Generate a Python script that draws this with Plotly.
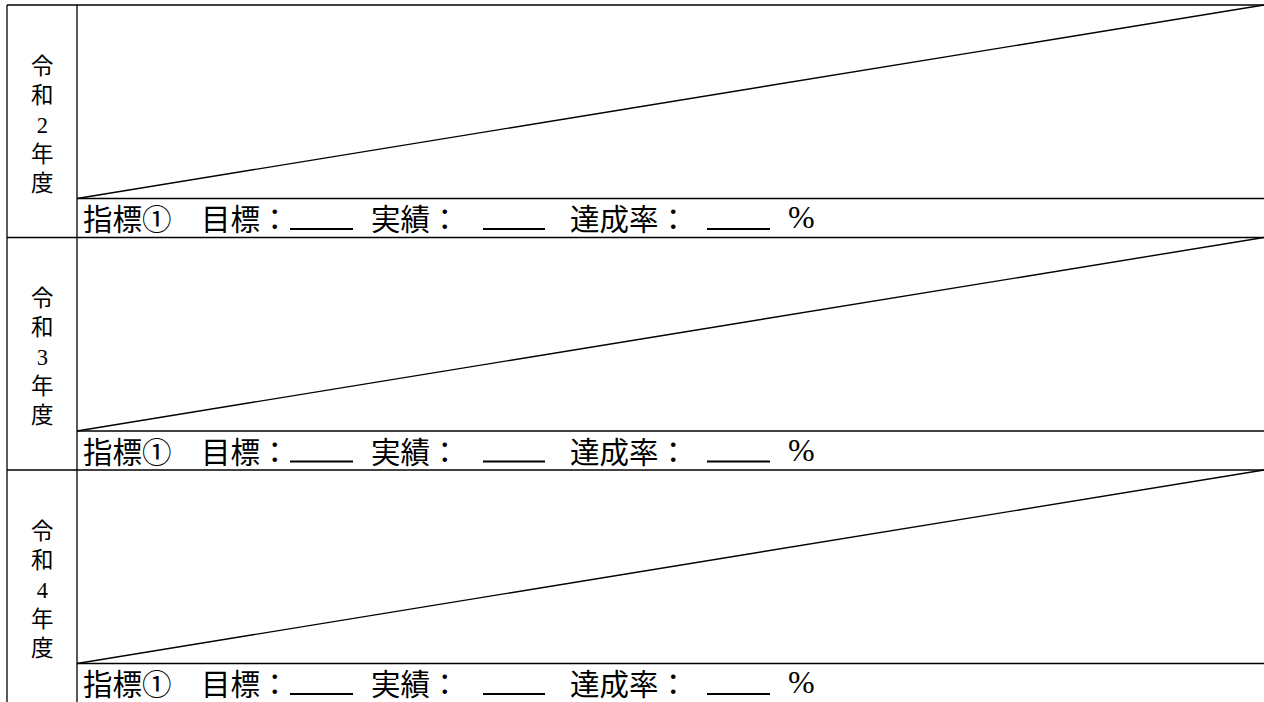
import plotly.graph_objects as go

# ---- content ----
years = ["令和2年度", "令和3年度", "令和4年度"]
indicator_label = "指標①　目標："
actual_label = "実績："
rate_label = "達成率："
percent_label = "%"

# ---- layout geometry (pixels) ----
W, H = 1264, 702
LEFT, DIV = 7, 77
TOP = 5
ROW_H = 232.5
BAND = 39            # height of the bottom text band in each row
LINE_W = 1.3
CJK = "Noto Sans CJK JP"
SERIF = "Liberation Serif"

fig = go.Figure()
shapes = []
annotations = []


def hline(x0, x1, y, w=LINE_W):
    shapes.append(dict(type="line", x0=x0, x1=x1, y0=y, y1=y,
                       line=dict(color="black", width=w)))


def vline(x, y0, y1, w=LINE_W):
    shapes.append(dict(type="line", x0=x, x1=x, y0=y0, y1=y1,
                       line=dict(color="black", width=w)))


vline(LEFT, TOP, H + 5)
vline(DIV, TOP, H + 5)

for i, year in enumerate(years):
    top = TOP + i * ROW_H
    band_top = top + ROW_H - BAND
    hline(LEFT, W + 5, top)
    hline(DIV, W + 5, band_top)
    # diagonal slash across the empty box
    shapes.append(dict(type="line", x0=DIV, y0=band_top, x1=W, y1=top,
                       line=dict(color="black", width=1.4)))

    # vertical year label, one character per line
    parts = []
    for ch in year:
        if ch.isdigit():
            parts.append(f"<span style='font-family:{SERIF}'>{ch}</span>")
        else:
            parts.append(ch)
    annotations.append(dict(
        x=42, y=top + ROW_H / 2 + 1, text="<br>".join(parts), showarrow=False,
        xanchor="center", yanchor="middle", align="center",
        font=dict(family=CJK, size=22.5, color="black")))

    # bottom band text
    by = band_top + BAND / 2 - 1
    for x0, txt in [(81, indicator_label), (369, actual_label), (568, rate_label)]:
        annotations.append(dict(x=x0, y=by, text=txt, showarrow=False,
                                xanchor="left", yanchor="middle",
                                font=dict(family=CJK, size=29.5, color="black")))
    annotations.append(dict(x=786, y=by, text=percent_label, showarrow=False,
                            xanchor="left", yanchor="middle",
                            font=dict(family=SERIF, size=32, color="black")))
    for ux0, ux1 in [(290, 353), (483, 545), (707, 770)]:
        hline(ux0, ux1, band_top + 30.5, w=2)

fig.update_layout(
    width=W, height=H,
    margin=dict(l=0, r=0, t=0, b=0),
    paper_bgcolor="white", plot_bgcolor="white",
    xaxis=dict(range=[0, W], visible=False, fixedrange=True),
    yaxis=dict(range=[H, 0], visible=False, fixedrange=True),
    shapes=shapes, annotations=annotations, showlegend=False,
)
fig.write_html(
    "out.html",
    config={"displayModeBar": False},
    post_script="document.body.style.margin='0';document.body.style.overflow='hidden';",
)
